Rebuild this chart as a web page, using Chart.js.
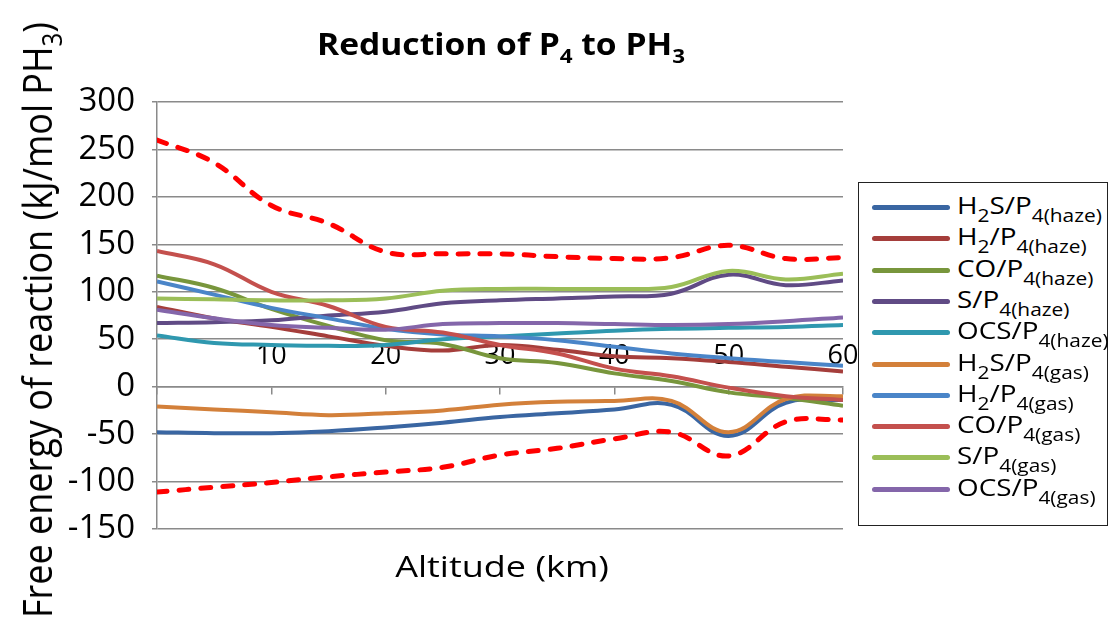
<!DOCTYPE html>
<html>
<head>
<meta charset="utf-8">
<script src="https://cdn.jsdelivr.net/npm/chart.js@4.4.1/dist/chart.umd.min.js"></script>
<style>
  html, body { margin: 0; padding: 0; background: #fff; }
  #wrap { position: relative; width: 1110px; height: 622px; overflow: hidden;
          font-family: "Open Sans", sans-serif; color: #000; }
  #wrap canvas { position: absolute; left: 0; top: 0; }
  .txt { position: absolute; white-space: nowrap; line-height: 1; }
  .sub { position: relative; }
  #title { left: 501px; top: 44px; font-size: 30px; font-weight: bold;
           transform: translate(-50%, -50%) scaleX(1.12); }
  #title .sub { font-size: 20px; top: 8px; }
  #xtitle { left: 502px; top: 566px; font-size: 30px;
            transform: translate(-50%, -50%) scaleX(1.2); }
  #ytitle { left: 37px; top: 320px; font-size: 36px;
            transform: translate(-50%, -50%) rotate(-90deg) scaleY(1.12); }
  #ytitle .sub { font-size: 24px; top: 9px; }
  #legend { position: absolute; left: 858px; top: 182px; width: 248px; height: 342px;
            border: 1.5px solid #222; background: #fff; }
  .row { position: absolute; left: 0; width: 248px; height: 31px; }
  .swatch { position: absolute; left: 13px; top: 13px; width: 78px; height: 5px; border-radius: 3px; }
  .label { position: absolute; left: 98px; top: 1px; font-size: 24px; line-height: 24px;
           white-space: nowrap; transform-origin: left center; transform: scaleX(1.16); }
  .label .sub { font-size: 18px; top: 8px; }
</style>
</head>
<body>
<div id="wrap">
  <canvas id="chart" width="1110" height="622"></canvas>
  <div id="title" class="txt">Reduction of P<span class="sub">4</span> to PH<span class="sub">3</span></div>
  <div id="ytitle" class="txt">Free energy of reaction (kJ/mol PH<span class="sub">3</span>)</div>
  <div id="xtitle" class="txt">Altitude (km)</div>
  <div id="legend"></div>
</div>
<script>
// Altitude grid (km) shared by every series
const altitudes = [0, 5, 10, 15, 20, 25, 30, 35, 40, 45, 50, 55, 60];

// Free energy of reaction (kJ/mol PH3) for each reductant / P4 phase
const h2sHaze = [-48, -49, -49, -47, -43, -38, -32, -28, -24, -19, -52, -17, -14];
const h2Haze  = [84, 72, 63, 53, 43, 38, 44, 39, 32, 30, 26, 21, 16];
const coHaze  = [117, 104, 82, 64, 49, 45, 30, 25, 14, 6, -6, -12, -20];
const sHaze   = [67, 68, 70, 75, 79, 88, 91, 93, 95, 98, 118, 107, 112];
const ocsHaze = [54, 46, 44, 43, 44, 50, 53, 56, 59, 61, 62, 63, 65];
const h2sGas  = [-21, -24, -27, -30, -28, -25, -19, -16, -15, -15, -48, -13, -10];
const h2Gas   = [111, 97, 83, 72, 61, 55, 53, 49, 42, 35, 30, 26, 22];
const coGas   = [143, 129, 100, 85, 63, 57, 44, 35, 19, 11, -1, -10, -14];
const sGas    = [93, 92, 91, 91, 93, 101, 103, 103, 103, 105, 122, 113, 119];
const ocsGas  = [81, 72, 65, 62, 60, 66, 67, 67, 66, 65, 66, 69, 73];

// Envelope of the reactions (dashed red)
const upperBound = [260, 236, 191, 172, 142, 140, 140, 137, 135, 136, 149, 135, 136];
const lowerBound = [-111, -106, -101, -95, -90, -85, -72, -65, -55, -48, -73, -37, -35];

// Axis ticks
const xTicks = [10, 20, 30, 40, 50, 60];
const yTicks = [-150, -100, -50, 0, 50, 100, 150, 200, 250, 300];

// Legend names: alternating normal / subscript pieces
const seriesNames = [
  ['H', '2', 'S/P', '4(haze)'],
  ['H', '2', '/P', '4(haze)'],
  ['CO/P', '4(haze)'],
  ['S/P', '4(haze)'],
  ['OCS/P', '4(haze)'],
  ['H', '2', 'S/P', '4(gas)'],
  ['H', '2', '/P', '4(gas)'],
  ['CO/P', '4(gas)'],
  ['S/P', '4(gas)'],
  ['OCS/P', '4(gas)']
];
const seriesValues = [h2sHaze, h2Haze, coHaze, sHaze, ocsHaze, h2sGas, h2Gas, coGas, sGas, ocsGas];
const seriesColors = ['#3A66A2', '#A53E3B', '#78963C', '#604B85', '#2F98AF',
                      '#D3803A', '#4A85C8', '#C4504D', '#9BBE58', '#8466AA'];

const toPoints = vals => altitudes.map((a, i) => ({ x: a, y: vals[i] }));

const datasets = seriesValues.map((vals, i) => ({
  label: seriesNames[i].join(''),
  data: toPoints(vals),
  borderColor: seriesColors[i],
  backgroundColor: seriesColors[i],
  borderWidth: 4,
  order: -i
}));
[upperBound, lowerBound].forEach((vals, j) => {
  datasets.push({
    label: j === 0 ? 'upper' : 'lower',
    data: toPoints(vals),
    borderColor: '#FF0000',
    borderWidth: 5,
    borderDash: [10, 12],
    borderCapStyle: 'round',
    order: -20 - j
  });
});

const gridGray = '#8A8A8A';

new Chart(document.getElementById('chart'), {
  type: 'line',
  data: { datasets },
  options: {
    responsive: false,
    animation: false,
    devicePixelRatio: 1,
    layout: { padding: { left: 0, top: 102, right: 267, bottom: 93 } },
    plugins: { legend: { display: false }, title: { display: false }, tooltip: { enabled: false } },
    elements: { point: { radius: 0 }, line: { tension: 0.4 } },
    scales: {
      x: {
        type: 'linear',
        min: 0, max: 60,
        position: { y: 0 },
        afterFit: s => { s.height = 0; },
        afterBuildTicks: s => { s.ticks = [0, ...xTicks].map(v => ({ value: v })); },
        grid: { drawOnChartArea: false, drawTicks: true, tickLength: 7, color: gridGray, lineWidth: 1.5 },
        border: { display: true, color: gridGray, width: 1.5 },
        ticks: {
          callback: v => (xTicks.includes(v) ? String(v) : ''),
          font: { family: 'Open Sans', size: 27 },
          color: '#000',
          padding: -54,
          maxRotation: 0,
          autoSkip: false
        }
      },
      y: {
        min: -150, max: 300,
        afterFit: s => { s.width = 157; },
        afterBuildTicks: s => { s.ticks = yTicks.map(v => ({ value: v })); },
        grid: { color: gridGray, lineWidth: 1.5, tickLength: 5 },
        border: { display: true, color: gridGray, width: 1.5 },
        ticks: { font: { family: 'Open Sans', size: 33 }, color: '#000', padding: 17 }
      }
    }
  }
});

// Legend with subscripted names
const legend = document.getElementById('legend');
seriesNames.forEach((parts, i) => {
  const row = document.createElement('div');
  row.className = 'row';
  row.style.top = (9 + i * 31.3) + 'px';
  const sw = document.createElement('div');
  sw.className = 'swatch';
  sw.style.background = seriesColors[i];
  row.appendChild(sw);
  const lab = document.createElement('div');
  lab.className = 'label';
  parts.forEach(p => {
    const span = document.createElement('span');
    if (/^\d/.test(p)) span.className = 'sub';
    span.textContent = p;
    lab.appendChild(span);
  });
  row.appendChild(lab);
  legend.appendChild(row);
});
</script>
</body>
</html>
